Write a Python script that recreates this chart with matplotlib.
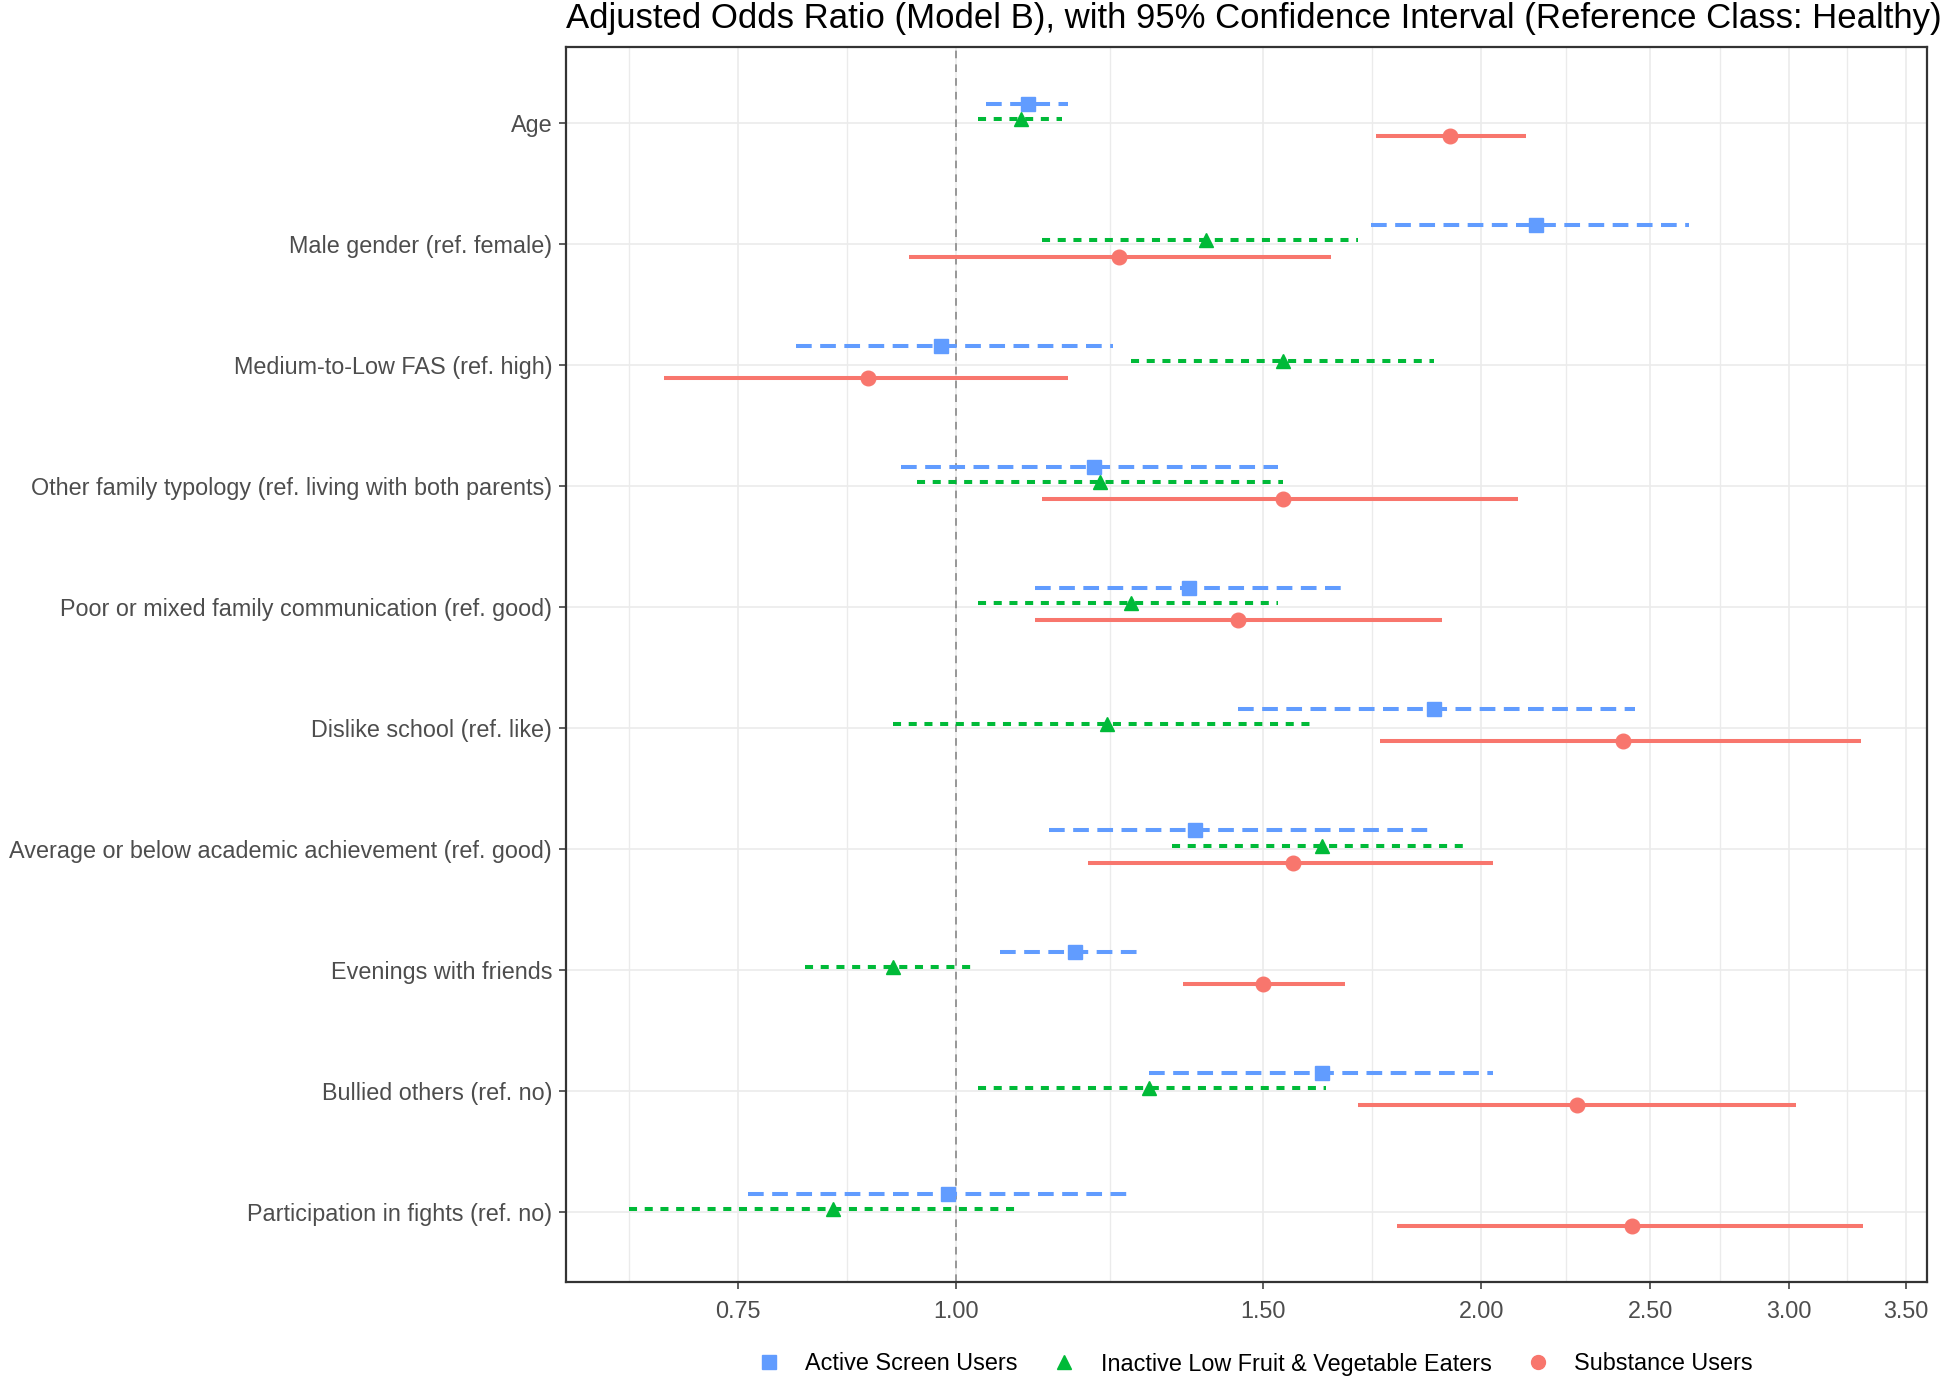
import numpy as np
import matplotlib
matplotlib.use('Agg')
import matplotlib.pyplot as plt
from matplotlib.lines import Line2D
from matplotlib.ticker import FixedLocator, NullFormatter

plt.rcParams['font.family'] = ['Liberation Sans', 'DejaVu Sans']

# predictors, top to bottom
variables = [
    'Age',
    'Male gender (ref. female)',
    'Medium-to-Low FAS (ref. high)',
    'Other family typology (ref. living with both parents)',
    'Poor or mixed family communication (ref. good)',
    'Dislike school (ref. like)',
    'Average or below academic achievement (ref. good)',
    'Evenings with friends',
    'Bullied others (ref. no)',
    'Participation in fights (ref. no)',
]

groups = ['Active Screen Users', 'Inactive Low Fruit & Vegetable Eaters', 'Substance Users']

# odds ratios and 95% CI
screen_or = [1.10, 2.15, 0.98, 1.20, 1.36, 1.88, 1.37, 1.17, 1.62, 0.99]
screen_lo = [1.04, 1.73, 0.81, 0.93, 1.11, 1.45, 1.13, 1.06, 1.29, 0.76]
screen_hi = [1.16, 2.63, 1.23, 1.53, 1.67, 2.45, 1.88, 1.28, 2.03, 1.26]

inactive_or = [1.09, 1.39, 1.54, 1.21, 1.26, 1.22, 1.62, 0.92, 1.29, 0.85]
inactive_lo = [1.03, 1.12, 1.26, 0.95, 1.03, 0.92, 1.33, 0.82, 1.03, 0.65]
inactive_hi = [1.15, 1.70, 1.88, 1.54, 1.53, 1.61, 1.97, 1.02, 1.63, 1.09]

subst_or = [1.92, 1.24, 0.89, 1.54, 1.45, 2.41, 1.56, 1.50, 2.27, 2.44]
subst_lo = [1.74, 0.94, 0.68, 1.12, 1.11, 1.75, 1.19, 1.35, 1.70, 1.79]
subst_hi = [2.12, 1.64, 1.16, 2.10, 1.90, 3.30, 2.03, 1.67, 3.03, 3.31]

x_breaks = [0.75, 1.00, 1.50, 2.00, 2.50, 3.00, 3.50]

colors = ['#619CFF', '#00BA38', '#F8766D']
markers = ['s', '^', 'o']
dashes = [(3.9, 2.1), (2.0, 1.9), None]
offsets = [-0.155, -0.03, 0.11]

series = [
    (screen_or, screen_lo, screen_hi),
    (inactive_or, inactive_lo, inactive_hi),
    (subst_or, subst_lo, subst_hi),
]

fig = plt.figure(figsize=(19.46, 13.79), dpi=100)
ax = fig.add_axes([0.2909, 0.0703, 0.6993, 0.8956])

ypos = np.arange(len(variables))

ax.axvline(1.0, color='#808080', lw=1.1, ls=(0, (5, 4)), zorder=2)

for k, (orv, lo, hi) in enumerate(series):
    for i in range(len(variables)):
        y = ypos[i] + offsets[k]
        line, = ax.plot([lo[i], hi[i]], [y, y], color=colors[k], lw=2.9,
                        solid_capstyle='butt', zorder=3)
        if dashes[k] is not None:
            line.set_dashes(dashes[k])
    ax.plot(orv, ypos + offsets[k], ls='none', marker=markers[k], ms=10.5,
            color=colors[k], mec=colors[k], zorder=4)

ax.set_xscale('log')
ax.set_xlim(0.598, 3.60)
ax.set_ylim(len(variables) - 1 + 0.575, -0.625)

# ggplot-style minor breaks at geometric midpoints of the major breaks
lb = np.log(x_breaks)
mids = list((lb[:-1] + lb[1:]) / 2) + [lb[0] - (lb[1] - lb[0]) / 2]
ax.xaxis.set_major_locator(FixedLocator(x_breaks))
ax.xaxis.set_major_formatter(plt.FixedFormatter(['%.2f' % b for b in x_breaks]))
ax.xaxis.set_minor_locator(FixedLocator(np.exp(mids)))
ax.xaxis.set_minor_formatter(NullFormatter())

ax.set_yticks(ypos)
ax.set_yticklabels(variables)

ax.grid(which='major', color='#EBEBEB', lw=1.2, zorder=0)
ax.grid(which='minor', axis='x', color='#EBEBEB', lw=1.0, zorder=0)
ax.set_axisbelow(True)

ax.tick_params(axis='both', which='major', labelsize=16.8, labelcolor='#4D4D4D',
               color='#333333', length=5, width=1.1, pad=5)
ax.tick_params(axis='x', which='minor', length=0)
ax.tick_params(axis='x', pad=8)

for s in ax.spines.values():
    s.set_color('#333333')
    s.set_linewidth(1.6)

fig.text(0.2909, 1 - 28 / 1379, 'Adjusted Odds Ratio (Model B), with 95% Confidence Interval (Reference Class: Healthy)',
         fontsize=25, ha='left', va='baseline', color='black')

handles = [Line2D([], [], ls='none', marker=markers[k], ms=10, color=colors[k]) for k in range(3)]
fig.legend(handles, groups, loc='center', bbox_to_anchor=(0.645, 1 - 1364 / 1379), ncol=3,
           frameon=False, fontsize=16.8, handlelength=1.0, handletextpad=1.05,
           columnspacing=1.5, borderaxespad=0)

fig.savefig('out.png', dpi=100)
